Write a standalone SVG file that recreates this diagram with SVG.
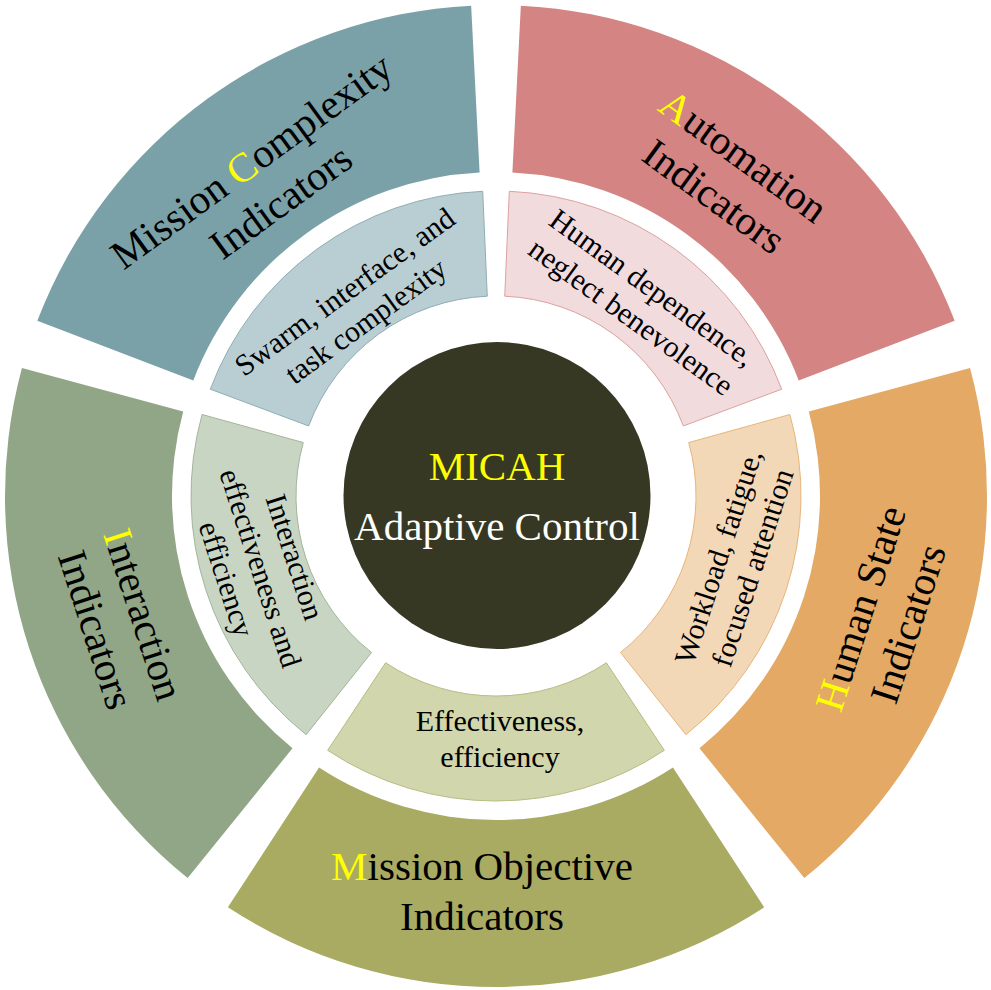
<svg xmlns="http://www.w3.org/2000/svg" width="991" height="990" viewBox="0 0 991 990">
<style>
text{font-family:"Liberation Serif","Times New Roman",serif;text-anchor:middle;fill:#000}
.o{font-size:41px}
.i{font-size:30px}
.c{font-size:41px}
.y{fill:#FFFF00}
.w{fill:#FFFFFF}
.in{stroke-width:1}
</style>
<rect width="991" height="990" fill="#FFFFFF"/>
<g id="connectors"/>
<g id="mission-complexity">
<path d="M471.16,5.63 A491,491 0 0 0 37.31,320.84 L193.32,380.42 A324,324 0 0 1 479.61,172.41 Z" fill="#7BA1A8"/>
<g transform="translate(266,181) rotate(-36)"><text class="o"><tspan x="0" y="-11">Mission <tspan class="y">C</tspan>omplexity</tspan><tspan x="0" y="39">Indicators</tspan></text></g>
</g>
<g id="automation">
<path d="M954.69,320.84 A491,491 0 0 0 520.84,5.63 L512.39,172.41 A324,324 0 0 1 798.68,380.42 Z" fill="#D38483"/>
<g transform="translate(729,176) rotate(36)"><text class="o"><tspan x="0" y="-11"><tspan class="y">A</tspan>utomation</tspan><tspan x="0" y="39">Indicators</tspan></text></g>
</g>
<g id="human-state">
<path d="M804.33,878.12 A491,491 0 0 0 970.05,368.09 L808.81,411.60 A324,324 0 0 1 699.46,748.15 Z" fill="#E3A965"/>
<g transform="translate(884,616) rotate(-72)"><text class="o"><tspan x="0" y="-11"><tspan class="y">H</tspan>uman State</tspan><tspan x="0" y="39">Indicators</tspan></text></g>
</g>
<g id="mission-objective">
<path d="M227.86,907.32 A491,491 0 0 0 764.14,907.32 L672.94,767.42 A324,324 0 0 1 319.06,767.42 Z" fill="#A9AB62"/>
<g transform="translate(482,891)"><text class="o"><tspan x="0" y="-11"><tspan class="y">M</tspan>ission Objective</tspan><tspan x="0" y="39">Indicators</tspan></text></g>
</g>
<g id="interaction">
<path d="M21.95,368.09 A491,491 0 0 0 187.67,878.12 L292.54,748.15 A324,324 0 0 1 183.19,411.60 Z" fill="#91A686"/>
<g transform="translate(120,622) rotate(72)"><text class="o"><tspan x="0" y="-11"><tspan class="y">I</tspan>nteraction</tspan><tspan x="0" y="39">Indicators</tspan></text></g>
</g>
<g id="swarm-complexity">
<path class="in" d="M482.70,191.29 A305,305 0 0 0 210.32,389.19 L308.67,425.96 A200,200 0 0 1 487.28,296.19 Z" fill="#B9CED3" stroke="#8FADB4"/>
<g transform="translate(355,306) rotate(-36)"><text class="i"><tspan x="0" y="-7.5">Swarm, interface, and</tspan><tspan x="0" y="28.5">task complexity</tspan></text></g>
</g>
<g id="human-dependence">
<path class="in" d="M781.68,389.19 A305,305 0 0 0 509.30,191.29 L504.72,296.19 A200,200 0 0 1 683.33,425.96 Z" fill="#F1DBDC" stroke="#DCA1A0"/>
<g transform="translate(642,302) rotate(36)"><text class="i"><tspan x="0" y="-7.5">Human dependence,</tspan><tspan x="0" y="28.5">neglect benevolence</tspan></text></g>
</g>
<g id="workload">
<path class="in" d="M685.87,734.70 A305,305 0 0 0 789.91,414.49 L688.73,442.55 A200,200 0 0 1 620.50,652.52 Z" fill="#F3D8B8" stroke="#E8B47A"/>
<g transform="translate(735,562) rotate(-72)"><text class="i"><tspan x="0" y="-7.5">Workload, fatigue,</tspan><tspan x="0" y="28.5">focused attention</tspan></text></g>
</g>
<g id="effectiveness">
<path class="in" d="M327.66,750.34 A305,305 0 0 0 664.34,750.34 L606.39,662.78 A200,200 0 0 1 385.61,662.78 Z" fill="#D2D6AC" stroke="#B8BC84"/>
<g transform="translate(500,738)"><text class="i"><tspan x="0" y="-7.5">Effectiveness,</tspan><tspan x="0" y="28.5">efficiency</tspan></text></g>
</g>
<g id="interaction-effectiveness">
<path class="in" d="M202.09,414.49 A305,305 0 0 0 306.13,734.70 L371.50,652.52 A200,200 0 0 1 303.27,442.55 Z" fill="#C9D5C3" stroke="#A3B59A"/>
<g transform="translate(261,568) rotate(72)"><text class="i"><tspan x="0" y="-25.5">Interaction</tspan><tspan x="0" y="10.5">effectiveness and</tspan><tspan x="0" y="46.5">efficiency</tspan></text></g>
</g>
<g id="micah">
<circle cx="497" cy="495.5" r="153.5" fill="#363823"/>
<text class="c y" x="497" y="480">MICAH</text>
<text class="c w" x="497" y="540">Adaptive Control</text>
</g>
</svg>
